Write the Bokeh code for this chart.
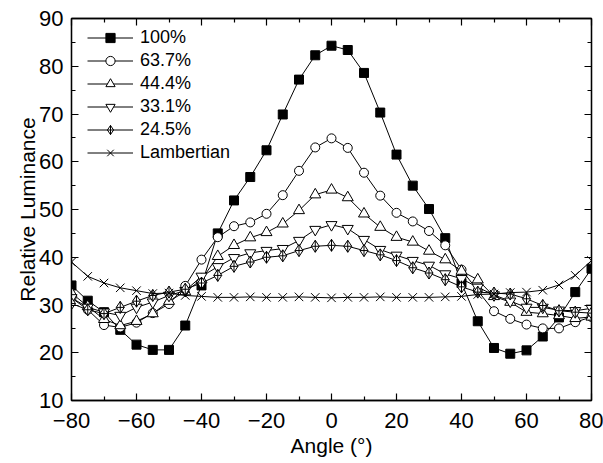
from bokeh.plotting import figure
from bokeh.models import (LinearAxis, FixedTicker, Range1d, Legend, LegendItem,
                          CustomJSTickFormatter)
from bokeh.embed import file_html
from bokeh.resources import INLINE

angles = list(range(-80, 81, 5))

lum_100 = [34.1, 30.9, 28.5, 24.8, 21.7, 20.6, 20.6, 25.7, 34.1, 45.0, 51.9, 56.8,
           62.4, 69.9, 77.2, 82.3, 84.3, 83.4, 78.6, 70.3, 61.5, 55.0, 50.1, 44.0,
           34.6, 26.6, 21.0, 19.8, 20.5, 23.4, 27.4, 32.7, 37.6]
lum_637 = [31.5, 29.0, 25.8, 25.3, 26.3, 28.3, 30.2, 34.0, 39.5, 44.2, 46.5, 47.3,
           49.1, 53.0, 58.1, 63.0, 64.9, 62.9, 57.7, 52.9, 49.3, 47.5, 45.5, 42.5,
           37.4, 33.0, 28.7, 27.1, 25.9, 25.1, 25.1, 26.4, 27.5]
lum_444 = [32.5, 29.7, 27.0, 25.7, 26.6, 28.2, 30.8, 32.8, 35.3, 40.2, 42.5, 44.1,
           45.2, 47.0, 49.8, 53.1, 54.1, 52.5, 49.1, 46.3, 44.2, 43.2, 41.3, 39.5,
           37.1, 35.3, 31.8, 30.6, 28.5, 28.2, 27.8, 27.2, 27.5]
lum_331 = [31.5, 29.5, 28.5, 27.8, 29.5, 30.6, 32.0, 33.0, 36.0, 38.0, 39.9, 40.9,
           41.4, 41.8, 43.5, 45.8, 46.8, 46.0, 43.7, 41.6, 40.4, 39.3, 38.3, 36.5,
           35.5, 33.7, 32.1, 30.8, 29.5, 29.5, 28.9, 28.8, 29.3]
lum_245 = [30.3, 29.0, 28.2, 29.5, 30.8, 32.0, 32.7, 33.3, 34.6, 36.2, 38.1, 39.0,
           40.0, 40.3, 41.4, 42.3, 42.5, 42.3, 41.4, 40.5, 39.3, 37.8, 36.7, 35.3,
           33.8, 32.7, 32.5, 32.3, 31.3, 29.9, 28.8, 28.5, 28.3]
lum_lamb = [39.0, 36.0, 34.6, 33.6, 33.0, 32.4, 32.5, 32.0, 31.8, 31.6, 31.6, 31.7,
            31.6, 31.6, 31.7, 31.6, 31.5, 31.6, 31.6, 31.7, 31.6, 31.6, 31.6, 31.7,
            31.8, 32.2, 32.3, 32.6, 32.7, 33.1, 34.2, 36.2, 39.3]

labels = ["100%", "63.7%", "44.4%", "33.1%", "24.5%", "Lambertian"]
series = [lum_100, lum_637, lum_444, lum_331, lum_245, lum_lamb]
markers = ["square", "circle", "triangle", "inverted_triangle", "diamond_cross", "x"]
sizes = [9, 9, 11, 11, 12, 12]
fills = ["black", "white", "white", "white", "white", "white"]

x_ticks = list(range(-80, 81, 20))
x_minor = list(range(-70, 71, 20))
y_ticks = list(range(10, 91, 10))
y_minor = list(range(15, 86, 10))

FONT = "Liberation Sans"

p = figure(frame_width=520, frame_height=382,
           x_range=Range1d(-80, 80), y_range=Range1d(10, 90),
           output_backend="svg", toolbar_location=None,
           min_border_left=71, min_border_right=12, min_border_top=18,
           min_border_bottom=63)
p.xgrid.visible = False
p.ygrid.visible = False
p.outline_line_color = "black"
p.outline_line_width = 1.3

xt = FixedTicker(ticks=x_ticks, minor_ticks=x_minor)
yt = FixedTicker(ticks=y_ticks, minor_ticks=y_minor)

bottom = p.xaxis[0]
left = p.yaxis[0]
bottom.ticker = xt
bottom.axis_label = "Angle (°)"
left.ticker = yt
left.axis_label = "Relative Luminance"

top = LinearAxis(ticker=xt, formatter=CustomJSTickFormatter(code="return ''"))
right = LinearAxis(ticker=yt, formatter=CustomJSTickFormatter(code="return ''"))
p.add_layout(top, "above")
p.add_layout(right, "right")

for ax in [bottom, left, top, right]:
    ax.axis_line_color = "black"
    ax.axis_line_width = 1.3
    ax.major_tick_in = 7
    ax.major_tick_out = 0
    ax.minor_tick_in = 4
    ax.minor_tick_out = 0
    ax.major_tick_line_color = "black"
    ax.minor_tick_line_color = "black"
    ax.major_tick_line_width = 1.2
    ax.minor_tick_line_width = 1.2
    ax.major_label_text_font = FONT
    ax.major_label_text_font_size = "22px"
    ax.major_label_text_color = "black"
    ax.axis_label_text_font = FONT
    ax.axis_label_text_font_size = "21px"
    ax.axis_label_text_font_style = "normal"
    ax.axis_label_text_color = "black"

top.major_label_standoff = 0
right.major_label_standoff = 0
bottom.major_label_standoff = 12
left.major_label_standoff = 8
bottom.axis_label_standoff = 3
left.axis_label_standoff = -3

items = []
for lab, ys, mk, sz, fc in zip(labels, series, markers, sizes, fills):
    lr = p.line(angles, ys, line_color="black", line_width=1)
    sr = p.scatter(angles, ys, marker=mk, size=sz, fill_color=fc,
                   line_color="black", line_width=1)
    items.append(LegendItem(label=lab, renderers=[lr, sr]))

legend = Legend(items=items, location=(16, 236), margin=0, padding=0,
                spacing=0, glyph_width=46, glyph_height=23, label_height=23,
                label_standoff=7, label_text_font=FONT,
                label_text_font_size="18px", label_text_color="black",
                border_line_color=None, background_fill_alpha=0)
p.add_layout(legend, "center")

open("out.html", "w").write(file_html(p, INLINE))
